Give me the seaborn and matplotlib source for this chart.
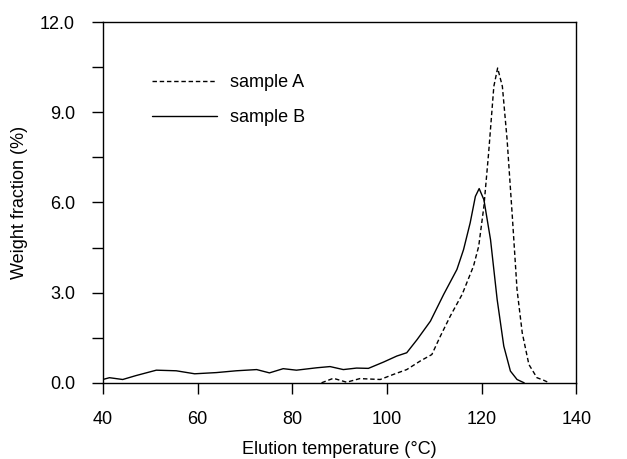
import pandas as pd
import matplotlib
matplotlib.use('Agg')
import matplotlib.pyplot as plt
import seaborn as sns

# Values
temp_b = [40, 41.4, 44.2, 47, 51.3, 55.5, 59.4, 64, 68.2, 72.5, 75.2, 78.1, 80.9, 85.2, 88,
          90.8, 93.6, 96.1, 99.3, 102.1, 104.2, 106.4, 109.2, 112, 114.8, 116.2, 117.6,
          118.7, 119.5, 120.5, 121.9, 123.3, 124.7, 126.1, 127.5, 129]
frac_b = [0.11, 0.17, 0.11, 0.24, 0.42, 0.40, 0.30, 0.34, 0.40, 0.44, 0.33, 0.47, 0.42, 0.50, 0.54,
          0.44, 0.49, 0.48, 0.69, 0.89, 1.0, 1.44, 2.05, 2.94, 3.77, 4.43, 5.32,
          6.20, 6.46, 6.09, 4.76, 2.77, 1.22, 0.39, 0.11, 0.0]

temp_a = [86.2, 88.7, 91.5, 94.3, 98.6, 101.4, 104.2, 107, 109.5, 111.3, 113.4, 115.9, 118.3,
          119.4, 120.5, 121.5, 122.6, 123.4, 124.4, 125.4, 126.5, 127.5, 128.6, 130, 131.7,
          133.2, 134.3]
frac_a = [0.0, 0.15, 0.02, 0.14, 0.11, 0.28, 0.44, 0.72, 0.94, 1.55, 2.22, 2.94, 3.88,
          4.54, 5.87, 7.65, 9.86, 10.47, 9.86, 8.09, 5.54, 3.10, 1.66, 0.61, 0.17,
          0.08, 0.0]

y_ticks = [0, 3, 6, 9, 12]

df_a = pd.DataFrame({'temp': temp_a, 'frac': frac_a})
df_b = pd.DataFrame({'temp': temp_b, 'frac': frac_b})

sns.set_style('ticks')
plt.rcParams['font.family'] = ['Liberation Sans', 'DejaVu Sans']
plt.rcParams['font.size'] = 13
plt.rcParams['text.color'] = 'black'
plt.rcParams['axes.labelcolor'] = 'black'

fig = plt.figure(figsize=(6.27, 4.59), dpi=100)
ax = fig.add_axes([0.164, 0.166, 0.755, 0.786])

sns.lineplot(data=df_a, x='temp', y='frac', ax=ax, color='black', linewidth=1.0,
             linestyle=(0, (3.2, 2.0)), label='sample A', sort=False)
sns.lineplot(data=df_b, x='temp', y='frac', ax=ax, color='black', linewidth=1.0,
             linestyle='-', label='sample B', sort=False)

ax.set_xlim(40, 140)
ax.set_ylim(0, 12)
ax.set_xticks(range(40, 141, 20))
ax.set_yticks(y_ticks)
ax.set_yticklabels([f'{v:.1f}' for v in y_ticks])
ax.set_yticks([1.5, 4.5, 7.5, 10.5], minor=True)
ax.tick_params(axis='both', which='both', direction='out', length=8, width=1, colors='black',
               labelsize=13, pad=12)
for s in ax.spines.values():
    s.set_linewidth(1.0)
    s.set_color('black')

ax.set_xlabel('Elution temperature (°C)', fontsize=13, labelpad=10)
ax.set_ylabel('Weight fraction (%)', fontsize=13, labelpad=9)

ax.legend(loc='upper left', bbox_to_anchor=(0.07, 0.9), frameon=False, handlelength=3.6,
          handletextpad=0.7, labelspacing=1.0, fontsize=13)

fig.savefig('out.png', dpi=100)
